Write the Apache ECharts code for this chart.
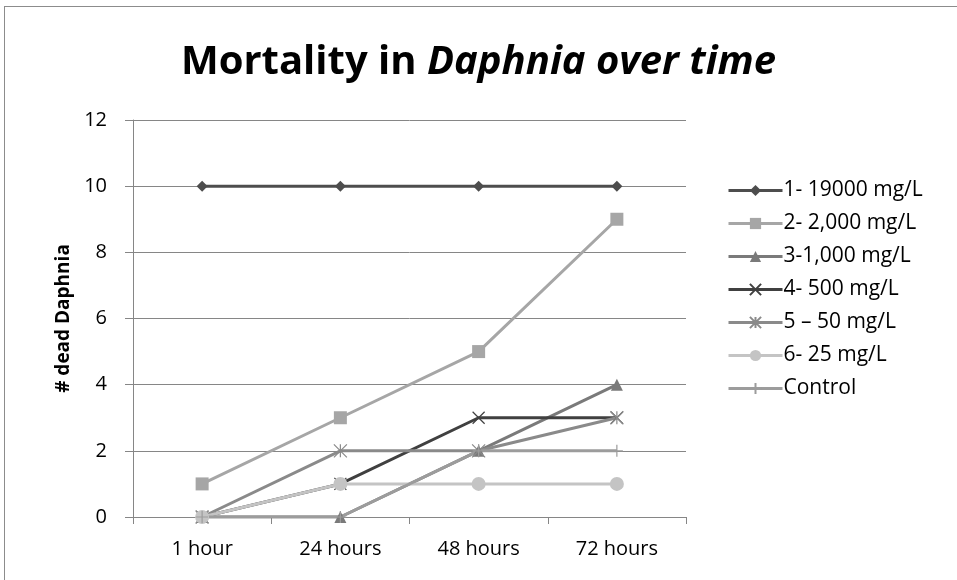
<!DOCTYPE html>
<html lang="en">
<head>
  <meta charset="UTF-8">
  <title>Mortality in Daphnia over time</title>
  <style>
    html, body { margin: 0; padding: 0; background: #fff; }
    #main { width: 957px; height: 580px; position: relative; }
    #frame { position: absolute; left: 4px; top: 6px; width: 960px; height: 600px; border: 1px solid #8c8c8c; }
  </style>
</head>
<body>
<div id="main"></div>
<div id="frame"></div>
<script src="https://cdn.jsdelivr.net/npm/echarts@6/dist/echarts.min.js"></script>
<script>
  // data
  let times = ['1 hour', '24 hours', '48 hours', '72 hours'];
  let names = ['1- 19000 mg/L', '2- 2,000 mg/L', '3-1,000 mg/L', '4- 500 mg/L', '5 \u2013 50 mg/L', '6- 25 mg/L', 'Control'];
  let s1 = [10, 10, 10, 10];
  let s2 = [1, 3, 5, 9];
  let s3 = [0, 0, 2, 4];
  let s4 = [0, 1, 3, 3];
  let s5 = [0, 2, 2, 3];
  let s6 = [0, 1, 1, 1];
  let control = [0, 0, 2, 2];

  let colors = ['#4d4d4d', '#a6a6a6', '#7a7a7a', '#404040', '#8a8a8a', '#c4c4c4', '#9c9c9c'];
  let symbols = [
    'diamond',
    'rect',
    'triangle',
    'path://M0,0L10,10M10,0L0,10',
    'path://M0,0L10,10M10,0L0,10M5,0L5,10',
    'circle',
    'path://M5,0L5,10M0,5L10,5'
  ];
  let sizes = [11, 13, 12, 12, 13, 14, 12];
  let allData = [s1, s2, s3, s4, s5, s6, control];

  let font = '"Open Sans", "Liberation Sans", sans-serif';
  let chart = echarts.init(document.getElementById('main'));

  let series = allData.map((d, i) => {
    let isPath = symbols[i].indexOf('path://') === 0;
    return {
      name: names[i],
      type: 'line',
      data: d,
      symbol: symbols[i],
      symbolSize: sizes[i],
      lineStyle: { color: colors[i], width: 3 },
      itemStyle: isPath
        ? { color: 'rgba(0,0,0,0)', borderColor: colors[i], borderWidth: 1.2 }
        : { color: colors[i], borderWidth: 0 },
      emphasis: { disabled: true },
      animation: false
    }
  });

  let option = {
    title: {
      text: '{a|Mortality in }{b|Daphnia over time}',
      left: 'center',
      top: 38,
      textStyle: {
        rich: {
          a: { fontFamily: font, fontWeight: 'bold', fontSize: 40, color: '#000' },
          b: { fontFamily: font, fontWeight: 'bold', fontStyle: 'italic', fontSize: 40, color: '#000' }
        }
      }
    },
    legend: {
      orient: 'vertical',
      left: 722,
      top: 175,
      itemWidth: 54,
      itemHeight: 14,
      itemGap: 12,
      data: names,
      lineStyle: { width: 3 },
      textStyle: { fontFamily: font, fontSize: 21, lineHeight: 21, color: '#000', padding: [0, 0, 0, -4] }
    },
    grid: { left: 133, right: 271, top: 120, bottom: 63, containLabel: false },
    xAxis: {
      type: 'category',
      data: times,
      boundaryGap: true,
      axisLine: { lineStyle: { color: '#868686', width: 1 } },
      axisTick: { show: true, length: 7, lineStyle: { color: '#868686' } },
      axisLabel: { fontFamily: font, fontSize: 20, color: '#000', margin: 22 }
    },
    yAxis: {
      type: 'value',
      min: 0,
      max: 12,
      interval: 2,
      name: '# dead Daphnia',
      nameLocation: 'middle',
      nameGap: 60,
      nameRotate: 90,
      nameTextStyle: { fontFamily: font, fontSize: 19, fontWeight: 'bold', color: '#000' },
      axisLine: { show: true, lineStyle: { color: '#868686', width: 1 } },
      axisTick: { show: true, length: 8, lineStyle: { color: '#868686' } },
      axisLabel: { fontFamily: font, fontSize: 20, color: '#000', margin: 26 },
      splitLine: { lineStyle: { color: '#868686', width: 1 } }
    },
    series: series
  };
  chart.setOption(option);
</script>
</body>
</html>
